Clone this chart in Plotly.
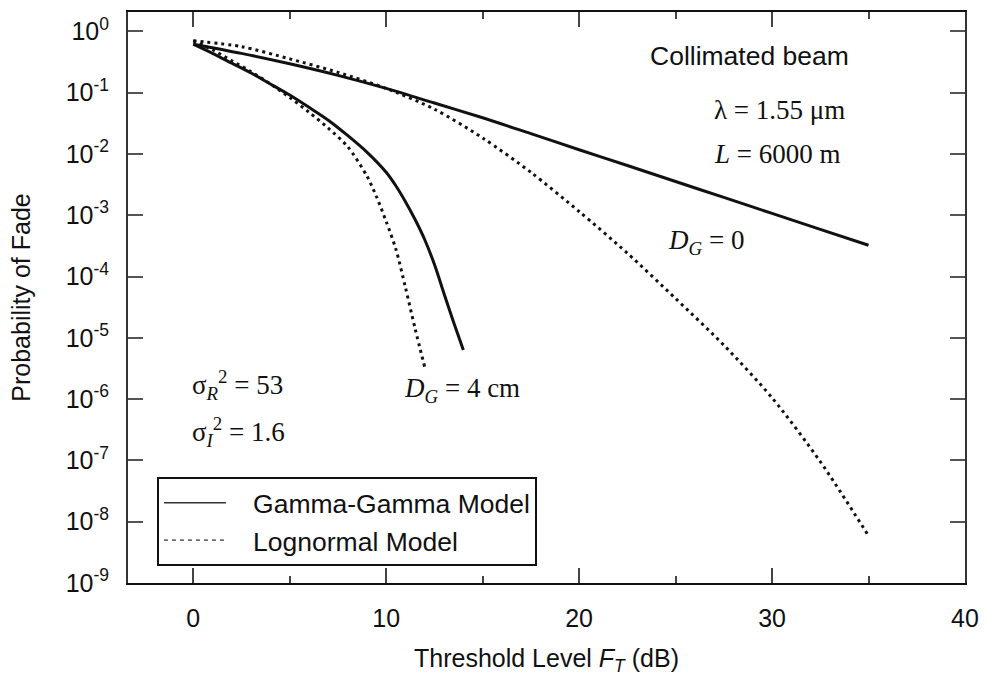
import plotly.graph_objects as go

# ---------------- data ----------------
threshold_dg0 = [0, 2.5, 5, 7.5, 10, 12.5, 15, 17.5, 20, 22.5, 25, 27.5, 30, 32.5, 35]
gamma_gamma_dg0 = [0.617, 0.437, 0.295, 0.191, 0.117, 0.0676, 0.0389, 0.0214, 0.0117,
                   6.46e-3, 3.55e-3, 1.95e-3, 1.07e-3, 5.89e-4, 3.24e-4]
lognormal_dg0 = [0.700, 0.562, 0.355, 0.214, 0.117, 0.0537, 0.0182, 5.01e-3, 1.15e-3,
                 2.40e-4, 4.37e-5, 7.59e-6, 1.05e-6, 9.55e-8, 5.89e-9]

threshold_gg_dg4 = [0, 1, 2, 3, 4, 5, 6, 7, 8, 9, 10, 10.5, 11, 11.5, 12, 12.5, 13, 13.5, 14]
gamma_gamma_dg4 = [0.617, 0.437, 0.302, 0.209, 0.138, 0.0912, 0.0575, 0.0355, 0.0200,
                   0.0107, 5.01e-3, 3.02e-3, 1.66e-3, 8.51e-4, 3.98e-4, 1.58e-4,
                   5.25e-5, 1.78e-5, 6.31e-6]

threshold_ln_dg4 = [0, 1, 2, 3, 4, 5, 6, 7, 8, 9, 9.5, 10, 10.5, 11, 11.5, 12]
lognormal_dg4 = [0.700, 0.501, 0.331, 0.219, 0.138, 0.0832, 0.0479, 0.0263, 0.0132,
                 4.37e-3, 2.00e-3, 7.94e-4, 2.82e-4, 6.61e-5, 1.41e-5, 3.31e-6]

y_tick_exponents = [-9, -8, -7, -6, -5, -4, -3, -2, -1, 0]
y_tick_values = [10.0 ** e for e in y_tick_exponents]
y_tick_labels = ["10<sup>%d</sup>" % e for e in y_tick_exponents]
x_tick_values = [0, 10, 20, 30, 40]

legend_names = ["Gamma-Gamma Model", "Lognormal Model"]

SANS = "Liberation Sans, Arial, sans-serif"
SERIF = "Liberation Serif, Times New Roman, serif"
INK = "#111111"
DOT = "3px,4px"
GAP = "\u00a0\u00a0\u00a0"

fig = go.Figure()

curve_style = dict(mode="lines", showlegend=False, hoverinfo="skip", line_shape="spline")
fig.add_trace(go.Scatter(x=threshold_dg0, y=gamma_gamma_dg0,
                         line=dict(color=INK, width=3, smoothing=0.8), **curve_style))
fig.add_trace(go.Scatter(x=threshold_dg0, y=lognormal_dg0,
                         line=dict(color=INK, width=3, dash=DOT, smoothing=0.8), **curve_style))
fig.add_trace(go.Scatter(x=threshold_gg_dg4, y=gamma_gamma_dg4,
                         line=dict(color=INK, width=3, smoothing=0.8), **curve_style))
fig.add_trace(go.Scatter(x=threshold_ln_dg4, y=lognormal_dg4,
                         line=dict(color=INK, width=3, dash=DOT, smoothing=0.8), **curve_style))

# legend-only entries (thin sample lines as in the reference)
fig.add_trace(go.Scatter(x=[None], y=[None], mode="lines", name=GAP + legend_names[0],
                         line=dict(color="#333333", width=1.5)))
fig.add_trace(go.Scatter(x=[None], y=[None], mode="lines", name=GAP + legend_names[1],
                         line=dict(color="#333333", width=1.2, dash="4px,4px")))

annotations = [
    dict(x=23.57, y=-0.405, text="Collimated beam", font=dict(family=SANS, size=26.5)),
    dict(x=26.89, y=-1.285, text="λ = 1.55 μm", font=dict(family=SERIF, size=27)),
    dict(x=26.89, y=-2.005, text="<i>L</i> = 6000 m", font=dict(family=SERIF, size=27)),
    dict(x=24.5, y=-3.43, text="<i>D<sub>G</sub></i> = 0", font=dict(family=SERIF, size=27)),
    dict(x=10.8, y=-5.845, text="<i>D<sub>G</sub></i> = 4 cm", font=dict(family=SERIF, size=27)),
    dict(x=-0.17, y=-5.765, text="σ<sub><i>R</i></sub><sup>2</sup> = 53", font=dict(family=SERIF, size=27)),
    dict(x=-0.17, y=-6.53, text="σ<sub><i>I</i></sub><sup>2</sup> = 1.6", font=dict(family=SERIF, size=27)),
]
for a in annotations:
    a.update(xref="x", yref="y", xanchor="left", yanchor="middle", showarrow=False)
    a["font"]["color"] = INK

fig.update_layout(
    width=989, height=678,
    margin=dict(l=128, r=23, t=10, b=86),
    paper_bgcolor="white", plot_bgcolor="white",
    font=dict(family=SANS, size=25, color=INK),
    annotations=annotations,
    legend=dict(x=0.0346, y=0.1856, xanchor="left", yanchor="top",
                bordercolor=INK, borderwidth=2, bgcolor="white",
                font=dict(family=SANS, size=26.5, color=INK),
                itemwidth=62, tracegroupgap=0),
)

fig.update_xaxes(
    range=[-3.38, 40], tickvals=x_tick_values, ticks="inside", ticklen=15, tickwidth=1.5,
    tickcolor="#444444", showline=True, linewidth=2, linecolor=INK, mirror="ticks",
    showgrid=False, zeroline=False, ticklabelstandoff=12,
    minor=dict(dtick=5, tick0=0, ticks="inside", ticklen=7, tickwidth=1.5, tickcolor="#444444"),
    title=dict(text="Threshold Level <i>F<sub>T</sub></i> (dB)", standoff=18,
               font=dict(family=SANS, size=25, color=INK)),
)
fig.update_yaxes(
    type="log", range=[-9, 0.315], tickvals=y_tick_values, ticktext=y_tick_labels,
    ticks="inside", ticklen=15, tickwidth=1.5, tickcolor="#555555",
    showline=True, linewidth=2, linecolor="#333333", mirror="ticks",
    showgrid=False, zeroline=False, ticklabelstandoff=12,
    title=dict(text="Probability of Fade", standoff=28, font=dict(family=SANS, size=25, color=INK)),
)

fig.write_html("out.html")
